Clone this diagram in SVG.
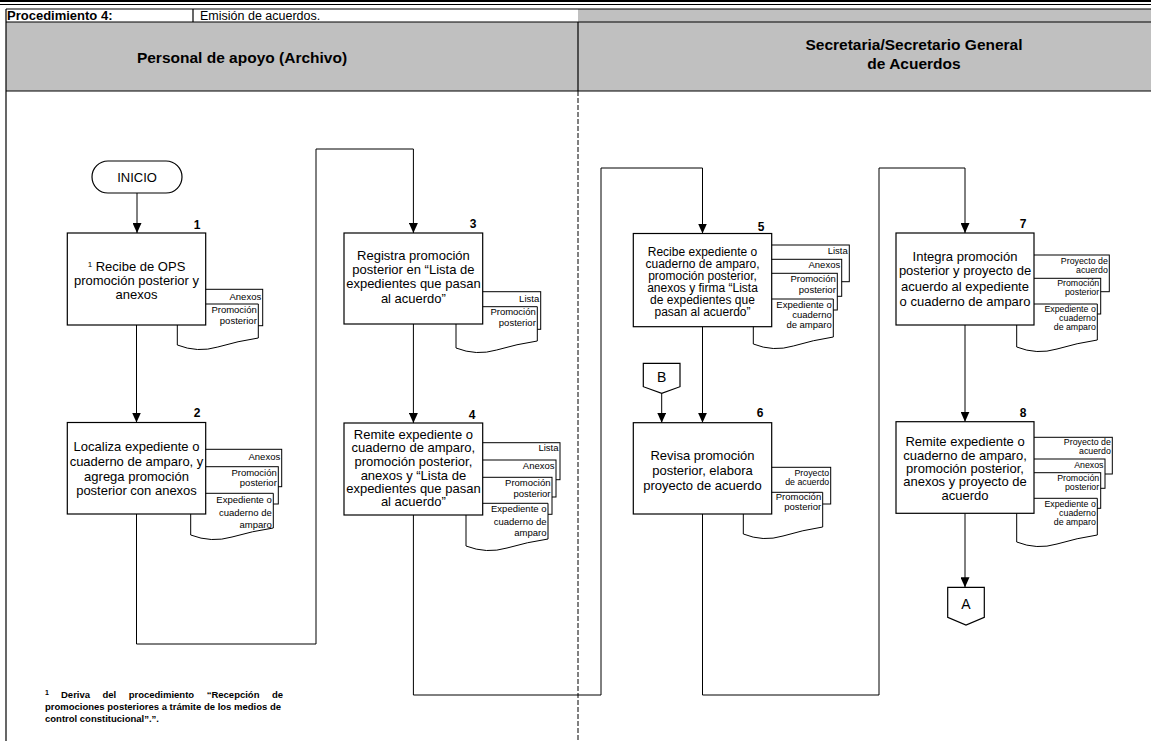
<svg xmlns="http://www.w3.org/2000/svg" width="1151" height="741" viewBox="0 0 1151 741">
  <defs>
    <marker id="arrow" markerUnits="userSpaceOnUse" markerWidth="10" markerHeight="9" refX="10" refY="4.5" orient="auto">
      <path d="M0,0 L10,4.5 L0,9 Z" fill="#000"/>
    </marker>
    <style>
      .frame { fill: none; stroke: #000; stroke-width: 1.2; }
      .lane { fill: #c0c0c0; }
      .sep { fill: none; stroke: #000; stroke-width: 1; stroke-dasharray: 5 2; }
      .box { fill: #fff; stroke: #000; stroke-width: 1.2; }
      .doc { fill: #fff; stroke: #000; stroke-width: 1; }
      .conn { fill: none; stroke: #000; stroke-width: 1; }
      .arr { marker-end: url(#arrow); }
      text { font-family: "Liberation Sans", Arial, sans-serif; fill: #000; }
      .hd { font-size: 13px; font-weight: bold; }
      .hr { font-size: 12.5px; }
      .ln { font-size: 15.5px; font-weight: bold; text-anchor: middle; }
      .t { font-size: 13px; text-anchor: middle; }
      .t5 { font-size: 12px; text-anchor: middle; }
      .d { font-size: 9.5px; text-anchor: end; }
      .d9 { font-size: 8.8px; text-anchor: end; }
      .n { font-size: 12px; font-weight: bold; text-anchor: middle; }
      .c { font-size: 14px; text-anchor: middle; }
      .fn { font-size: 9.5px; font-weight: bold; }
    </style>
  </defs>

  <rect width="1151" height="741" fill="#fff"/>

  <!-- page rule -->
  <line x1="0" y1="1" x2="1151" y2="1" stroke="#000" stroke-width="2"/>
  <line x1="0" y1="4.5" x2="1151" y2="4.5" stroke="#000" stroke-width="1"/>

  <!-- table header -->
  <g id="header">
    <rect class="lane" x="578" y="9" width="573" height="13"/>
    <rect class="lane" x="6" y="22" width="1145" height="69"/>
    <line class="frame" x1="6" y1="9" x2="1151" y2="9"/>
    <line class="frame" x1="6" y1="22" x2="1151" y2="22"/>
    <line class="frame" x1="6" y1="91" x2="1151" y2="91"/>
    <line class="frame" x1="6" y1="9" x2="6" y2="741"/>
    <line class="frame" x1="193" y1="9" x2="193" y2="22"/>
    <line class="frame" x1="578" y1="22" x2="578" y2="91"/>
    <text class="hd" x="7" y="19.5">Procedimiento 4:</text>
    <text class="hr" x="200" y="19.5">Emisión de acuerdos.</text>
    <text class="ln" x="242" y="63">Personal de apoyo (Archivo)</text>
    <text class="ln" x="914" y="50">Secretaria/Secretario General</text>
    <text class="ln" x="914" y="69">de Acuerdos</text>
  </g>

  <line class="sep" x1="578" y1="91" x2="578" y2="741"/>

  <!-- connectors -->
  <g id="connectors">
    <path class="conn arr" d="M137,193 V233"/>
    <path class="conn arr" d="M136.5,325 V422.5"/>
    <path class="conn arr" d="M136.5,514 V644 H316 V149 H413.4 V233"/>
    <path class="conn arr" d="M413.4,324 V423"/>
    <path class="conn arr" d="M413.4,515 V695 H601 V168 H702.5 V233.5"/>
    <path class="conn arr" d="M702.5,327 V422.7"/>
    <path class="conn arr" d="M661.7,393.3 V422.7"/>
    <path class="conn arr" d="M702.5,514 V695 H879 V168 H965 V233"/>
    <path class="conn arr" d="M965,325 V421.7"/>
    <path class="conn arr" d="M965,513.3 V587.3"/>
  </g>

  <g id="inicio">
    <rect class="box" x="92" y="161" width="90" height="32" rx="16"/>
    <text class="t" x="137" y="181.5">INICIO</text>
  </g>

  <!-- step 1 -->
  <g id="step1">
    <rect class="doc" x="190" y="289.3" width="72.7" height="36.4"/>
    <text class="d" x="261.2" y="299.8">Anexos</text>
    <path class="doc" d="M177.3,304 H258.3 V338 Q238.05,341 217.8,347 Q197.55,353 177.3,345 Z"/>
    <text class="d" x="256.8" y="313.2">Promoción</text>
    <text class="d" x="256.8" y="323.9">posterior</text>
    <rect class="box" x="67.3" y="233" width="138.4" height="92"/>
    <text class="n" x="197" y="229">1</text>
    <text class="t" x="136.5" y="271.4"><tspan font-size="8" dy="-4">1</tspan><tspan dy="4"> Recibe de OPS</tspan></text>
    <text class="t" x="136.5" y="285.4">promoción posterior y</text>
    <text class="t" x="136.5" y="299">anexos</text>
  </g>

  <!-- step 2 -->
  <g id="step2">
    <rect class="doc" x="190" y="449.3" width="91.7" height="37.4"/>
    <text class="d" x="280.2" y="459.8">Anexos</text>
    <rect class="doc" x="190" y="466.7" width="88.3" height="37.3"/>
    <text class="d" x="276.8" y="475.8">Promoción</text>
    <text class="d" x="276.8" y="486.4">posterior</text>
    <path class="doc" d="M190.7,493.3 H273.3 V528 Q252.65,531 232,537 Q211.35,543 190.7,535 Z"/>
    <text class="d" x="271.8" y="503.2">Expediente o</text>
    <text class="d" x="271.8" y="515.8">cuaderno de</text>
    <text class="d" x="271.8" y="528.1">amparo</text>
    <rect class="box" x="67.3" y="422.5" width="138.4" height="91.5"/>
    <text class="n" x="197" y="417">2</text>
    <text class="t" x="136.5" y="451.4">Localiza expediente o</text>
    <text class="t" x="136.5" y="466.4">cuaderno de amparo, y</text>
    <text class="t" x="136.5" y="480.7">agrega promoción</text>
    <text class="t" x="136.5" y="495.4">posterior con anexos</text>
  </g>

  <!-- step 3 -->
  <g id="step3">
    <rect class="doc" x="467" y="291.7" width="73.7" height="37.6"/>
    <text class="d" x="539.2" y="302.1">Lista</text>
    <path class="doc" d="M456,306.7 H537.3 V341 Q517,344 496.65,350 Q476.3,356 456,348 Z"/>
    <text class="d" x="535.8" y="314.8">Promoción</text>
    <text class="d" x="535.8" y="325.8">posterior</text>
    <rect class="box" x="344" y="233" width="138.7" height="91"/>
    <text class="n" x="473" y="228">3</text>
    <text class="t" x="413.4" y="259.7">Registra promoción</text>
    <text class="t" x="413.4" y="274">posterior en “Lista de</text>
    <text class="t" x="413.4" y="288">expedientes que pasan</text>
    <text class="t" x="413.4" y="303">al acuerdo”</text>
  </g>

  <!-- step 4 -->
  <g id="step4">
    <rect class="doc" x="467" y="442.7" width="93" height="37"/>
    <text class="d" x="558.5" y="451.4">Lista</text>
    <rect class="doc" x="467" y="460" width="89" height="37"/>
    <text class="d" x="554.5" y="468.8">Anexos</text>
    <rect class="doc" x="467" y="477.3" width="85" height="37"/>
    <text class="d" x="550.5" y="486.4">Promoción</text>
    <text class="d" x="550.5" y="497.4">posterior</text>
    <path class="doc" d="M466,503.3 H548 V539 Q527.5,542 507,548 Q486.5,554 466,546 Z"/>
    <text class="d" x="546.5" y="512.4">Expediente o</text>
    <text class="d" x="546.5" y="524.8">cuaderno de</text>
    <text class="d" x="546.5" y="536.4">amparo</text>
    <rect class="box" x="344" y="423" width="138.7" height="92"/>
    <text class="n" x="472" y="419">4</text>
    <text class="t" x="413.4" y="439">Remite expediente o</text>
    <text class="t" x="413.4" y="452">cuaderno de amparo,</text>
    <text class="t" x="413.4" y="465.7">promoción posterior,</text>
    <text class="t" x="413.4" y="479.7">anexos y “Lista de</text>
    <text class="t" x="413.4" y="493">expedientes que pasan</text>
    <text class="t" x="413.4" y="506.4">al acuerdo”</text>
  </g>

  <!-- step 5 -->
  <g id="step5">
    <rect class="doc" x="756" y="245" width="93.3" height="36.7"/>
    <text class="d" x="847.8" y="254">Lista</text>
    <rect class="doc" x="756" y="259.3" width="85.7" height="37"/>
    <text class="d" x="840.2" y="268">Anexos</text>
    <rect class="doc" x="756" y="273.3" width="81.3" height="36.7"/>
    <text class="d" x="835.8" y="282.4">Promoción</text>
    <text class="d" x="835.8" y="293">posterior</text>
    <path class="doc" d="M753.3,299 H833.3 V337 Q813.3,340 793.3,346 Q773.3,352 753.3,344 Z"/>
    <text class="d" x="831.8" y="307.5">Expediente o</text>
    <text class="d" x="831.8" y="318">cuaderno</text>
    <text class="d" x="831.8" y="328">de amparo</text>
    <rect class="box" x="633.3" y="233.5" width="138.4" height="93.2"/>
    <text class="n" x="761" y="231">5</text>
    <text class="t5" x="702.5" y="256">Recibe expediente o</text>
    <text class="t5" x="702.5" y="268">cuaderno de amparo,</text>
    <text class="t5" x="702.5" y="280">promoción posterior,</text>
    <text class="t5" x="702.5" y="292">anexos y firma “Lista</text>
    <text class="t5" x="702.5" y="304">de expedientes que</text>
    <text class="t5" x="702.5" y="316">pasan al acuerdo”</text>
  </g>

  <!-- off-page reference B -->
  <g id="refB">
    <path class="box" d="M643.3,363.3 H680 V386.7 L661.7,393.3 L643.3,386.7 Z"/>
    <text class="c" x="661.7" y="381.7">B</text>
  </g>

  <!-- step 6 -->
  <g id="step6">
    <rect class="doc" x="756" y="467.3" width="74.7" height="36.7"/>
    <text class="d9" x="829.2" y="475.8">Proyecto</text>
    <text class="d9" x="829.2" y="485.1">de acuerdo</text>
    <path class="doc" d="M743.3,492.3 H822.7 V527 Q802.85,530 783,536 Q763.15,542 743.3,534 Z"/>
    <text class="d" x="821.2" y="500.4">Promoción</text>
    <text class="d" x="821.2" y="510.4">posterior</text>
    <rect class="box" x="633.3" y="422.7" width="138.4" height="91.3"/>
    <text class="n" x="760" y="417">6</text>
    <text class="t" x="702.5" y="459.7">Revisa promoción</text>
    <text class="t" x="702.5" y="474.7">posterior, elabora</text>
    <text class="t" x="702.5" y="489.7">proyecto de acuerdo</text>
  </g>

  <!-- step 7 -->
  <g id="step7">
    <rect class="doc" x="1019" y="255" width="90.3" height="36.7"/>
    <text class="d9" x="1107.8" y="263.5">Proyecto de</text>
    <text class="d9" x="1107.8" y="272.5">acuerdo</text>
    <rect class="doc" x="1019" y="278.3" width="81.7" height="35.7"/>
    <text class="d9" x="1099.2" y="286.4">Promoción</text>
    <text class="d9" x="1099.2" y="295.4">posterior</text>
    <path class="doc" d="M1016.7,304 H1097.3 V340 Q1077.15,343 1057,349 Q1036.85,355 1016.7,347 Z"/>
    <text class="d9" x="1095.8" y="312">Expediente o</text>
    <text class="d9" x="1095.8" y="321">cuaderno</text>
    <text class="d9" x="1095.8" y="330">de amparo</text>
    <rect class="box" x="896" y="233" width="138" height="92"/>
    <text class="n" x="1023" y="228">7</text>
    <text class="t" x="965" y="260.7">Integra promoción</text>
    <text class="t" x="965" y="275.4">posterior y proyecto de</text>
    <text class="t" x="965" y="290.7">acuerdo al expediente</text>
    <text class="t" x="965" y="306.4">o cuaderno de amparo</text>
  </g>

  <!-- step 8 -->
  <g id="step8">
    <rect class="doc" x="1019" y="437.3" width="93.3" height="36.7"/>
    <text class="d9" x="1110.8" y="444.8">Proyecto de</text>
    <text class="d9" x="1110.8" y="453.8">acuerdo</text>
    <rect class="doc" x="1019" y="459" width="86" height="29.3"/>
    <text class="d9" x="1103.5" y="468">Anexos</text>
    <rect class="doc" x="1019" y="472.7" width="81.7" height="35.6"/>
    <text class="d9" x="1099.2" y="481.4">Promoción</text>
    <text class="d9" x="1099.2" y="490.4">posterior</text>
    <path class="doc" d="M1016.7,498.3 H1097.3 V535 Q1077.15,538 1057,544 Q1036.85,550 1016.7,542 Z"/>
    <text class="d9" x="1095.8" y="506.5">Expediente o</text>
    <text class="d9" x="1095.8" y="515.5">cuaderno</text>
    <text class="d9" x="1095.8" y="524.5">de amparo</text>
    <rect class="box" x="896" y="421.7" width="138" height="91.6"/>
    <text class="n" x="1023" y="417">8</text>
    <text class="t" x="965" y="446.4">Remite expediente o</text>
    <text class="t" x="965" y="459.7">cuaderno de amparo,</text>
    <text class="t" x="965" y="473">promoción posterior,</text>
    <text class="t" x="965" y="486.4">anexos y proyecto de</text>
    <text class="t" x="965" y="499.7">acuerdo</text>
  </g>

  <!-- off-page reference A -->
  <g id="refA">
    <path class="box" d="M947.7,587.3 H984.3 V617.3 L966,625 L947.7,617.3 Z"/>
    <text class="c" x="966" y="608.5">A</text>
  </g>

  <!-- footnote -->
  <g id="footnote">
    <text class="fn" x="45" y="698.4"><tspan font-size="7" dy="-3">1</tspan></text>
    <text class="fn" x="61" y="698.4">Deriva</text>
    <text class="fn" x="102.5" y="698.4">del</text>
    <text class="fn" x="128.7" y="698.4">procedimiento</text>
    <text class="fn" x="206.7" y="698.4">“Recepción</text>
    <text class="fn" x="283" y="698.4" text-anchor="end">de</text>
    <text class="fn" x="45" y="710.1">promociones posteriores a trámite de los medios de</text>
    <text class="fn" x="45" y="721.7">control constitucional”.”.</text>
  </g>
</svg>
